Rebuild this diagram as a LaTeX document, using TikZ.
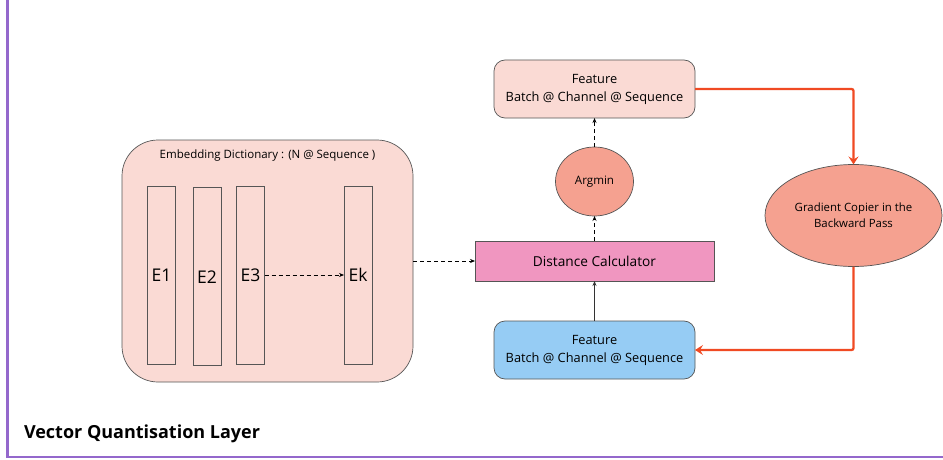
\documentclass[tikz,border=0pt]{standalone}
\usepackage{fontspec}
\setmainfont{Open Sans}
\usetikzlibrary{shapes.geometric,arrows.meta}
\definecolor{frameC}{HTML}{9468CC}
\definecolor{redC}{HTML}{F04A23}
\definecolor{dictC}{HTML}{FADAD4}
\definecolor{pinkC}{HTML}{F096C0}
\definecolor{argC}{HTML}{F5A190}
\definecolor{blueC}{HTML}{96CCF4}
\definecolor{lineC}{HTML}{555555}
\tikzset{
  every node/.style={inner sep=0pt, outer sep=0pt},
  ebar/.style={draw=lineC, line width=0.7pt, minimum width=28pt, minimum height=178pt},
  elab/.style={font=\fontsize{17.5}{20}\selectfont},
  feat/.style={draw=lineC, line width=0.7pt, rounded corners=11pt, minimum width=201pt, minimum height=58pt, align=center, font=\fontsize{12.8}{18}\selectfont},
  darr/.style={draw=black, line width=0.7pt, dash pattern=on 4pt off 3pt, -{Stealth[length=5pt,width=4pt]}},
  sarr/.style={draw=black!80, line width=0.9pt, -{Stealth[length=5pt,width=4pt]}},
  rarr/.style={draw=redC, line width=2.3pt, rounded corners=2pt, -{Stealth[length=8pt,width=10pt,inset=3pt]}},
}
\begin{document}
\begin{tikzpicture}[x=1pt,y=-1pt]
\useasboundingbox (0,0) rectangle (943,460);
\draw[frameC, line width=2.4pt] (7.5,-10) -- (7.5,457) -- (960,457);
\node[anchor=west, font=\fontsize{18}{20}\selectfont\bfseries] (title) at (24,434) {Vector Quantisation Layer};
% dictionary
\node[draw=lineC, line width=0.7pt, fill=dictC, rounded corners=36pt, minimum width=291pt, minimum height=242pt] (dict) at (267.5,261) {};
\node[font=\fontsize{11.5}{13}\selectfont] (dtitle) at (267.5,156) {Embedding Dictionary : (N @ Sequence )};
\node[ebar] (e1) at (161.5,275) {};
\node[ebar] (e2) at (207,276) {};
\node[ebar] (e3) at (250.5,275) {};
\node[ebar] (ek) at (358,275) {};
\node[elab] at (e1) {E1};
\node[elab] at (207,277) {E2};
\node[elab] at (e3) {E3};
\node[elab] at (ek) {Ek};
\draw[darr] (e3.east |- 0,275) -- (ek.west |- 0,275);
% distance calc
\node[draw=lineC, line width=0.7pt, fill=pinkC, minimum width=239pt, minimum height=40pt, font=\fontsize{13.7}{15}\selectfont] (dist) at (594.5,261) {Distance Calculator};
\draw[darr] (dict.east) -- (dist.west);
% argmin
\node[draw=lineC, line width=0.7pt, fill=argC, ellipse, minimum width=78pt, minimum height=69pt, font=\fontsize{11.6}{13}\selectfont] (arg) at (594.5,181.5) {Argmin};
% features
\node[feat, fill=dictC] (ftop) at (594.5,89) {Feature\\Batch @ Channel @ Sequence};
\node[feat, fill=blueC] (fbot) at (594.5,350) {Feature\\Batch @ Channel @ Sequence};
\draw[darr] (dist.north) -- (arg.south);
\draw[darr] (arg.north) -- (ftop.south);
\draw[sarr] (fbot.north) -- (dist.south);
% gradient copier
\node[draw=lineC, line width=0.7pt, fill=argC, ellipse, minimum width=177pt, minimum height=102pt, align=center, font=\fontsize{11.4}{16}\selectfont] (grad) at (853.5,215.5) {Gradient Copier in the\\Backward Pass};
\draw[rarr] (ftop.east) -| (grad.north);
\draw[rarr] (grad.south) |- (fbot.east);
\end{tikzpicture}
\end{document}
